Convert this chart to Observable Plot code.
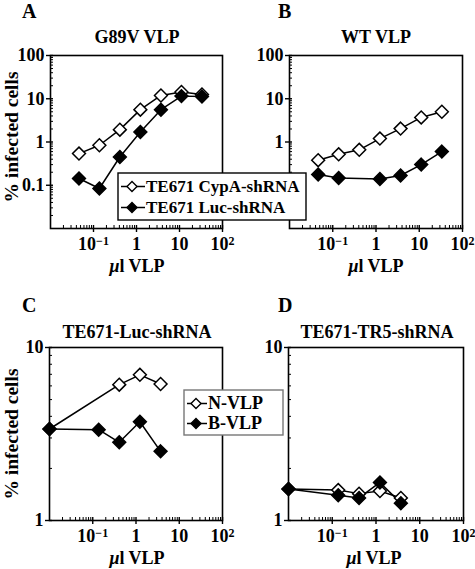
<!DOCTYPE html>
<html><head><meta charset="utf-8">
<script src="https://cdn.jsdelivr.net/npm/d3@7"></script>
<script src="https://cdn.jsdelivr.net/npm/@observablehq/plot@0.6"></script>
<style>
html,body{margin:0;padding:0;background:#fff;}
#fig{position:relative;width:475px;height:569px;overflow:hidden;background:#fff;}
.panel{position:absolute;}
#overlay{position:absolute;left:0;top:0;pointer-events:none;}
</style></head><body><div id="fig"></div>
<script>
// ---- data ----
const doseA = [0.046, 0.137, 0.41, 1.23, 3.7, 11.1, 33.3];
const g89vCypA = [0.54, 0.84, 1.93, 5.6, 11.9, 14.3, 12.6];
const g89vLuc = [0.143, 0.084, 0.45, 1.70, 5.6, 11.5, 11.2];
const doseWtCypA = [0.046, 0.137, 0.41, 1.23, 3.7, 11.1, 33.3];
const wtCypA = [0.38, 0.52, 0.66, 1.2, 2.04, 3.7, 5.0];
const doseWtLuc = [0.046, 0.137, 1.23, 3.7, 11.1, 33.3];
const wtLuc = [0.177, 0.148, 0.14, 0.168, 0.30, 0.60];
const doseLucN = [0.01, 0.41, 1.23, 3.7];
const lucN = [3.38, 6.1, 6.95, 6.15];
const doseLucB = [0.01, 0.137, 0.41, 1.23, 3.7];
const lucB = [3.38, 3.35, 2.83, 3.72, 2.51];
const doseTR5 = [0.01, 0.137, 0.41, 1.23, 3.7];
const tr5N = [1.52, 1.50, 1.43, 1.48, 1.35];
const tr5B = [1.52, 1.40, 1.35, 1.66, 1.26];

const xTicks = [0.1, 1, 10, 100];
const xTickLabels = ["10^-1", "1", "10", "10^2"];
const yTicksTop = [0.1, 1, 10, 100];
const yTickLabelsA = ["0.1", "1", "10", "100"];
const yTickLabelsB = ["", "1", "10", "100"]; // 0.1 hidden behind the legend box in the original
const yTicksBottom = [1, 10];
const yTickLabelsBottom = ["1", "10"];

const panelTitles = ["G89V VLP", "WT VLP", "TE671-Luc-shRNA", "TE671-TR5-shRNA"];
const panelLetters = ["A", "B", "C", "D"];
const legendTop = ["TE671 CypA-shRNA", "TE671 Luc-shRNA"];
const legendBottom = ["N-VLP", "B-VLP"];

// ---- helpers ----
const FONT = '"Liberation Serif","Times New Roman",Times,serif';
function minorTicks(lo, hi) {
  const out = [];
  for (let e = Math.round(Math.log10(lo)); e < Math.round(Math.log10(hi)); e++)
    for (let m = 2; m <= 9; m++) out.push(m * Math.pow(10, e));
  return out;
}
const rows = (xs, ys) => xs.map((x, i) => ({x, y: ys[i]}));

function panel(o) {
  const fw = o.width - o.ml - o.mr, fh = o.height - o.mt - o.mb;
  const xMin = minorTicks(0.01, 100), yMin = minorTicks(o.yDomain[0], o.yDomain[1]);
  const marks = [
    Plot.tickX(xMin, {x: d => d, insetTop: fh - 3, stroke: "black", strokeWidth: 1}),
    Plot.tickX(xTicks, {x: d => d, insetTop: fh - 3, stroke: "black", strokeWidth: 1.4}),
    Plot.tickY(yMin, {y: d => d, insetRight: fw - 3, stroke: "black", strokeWidth: 1}),
    Plot.tickY(o.yTicks, {y: d => d, insetRight: fw - 3, stroke: "black", strokeWidth: 1.4}),
    Plot.axisX({ticks: xTicks, tickFormat: d => xTickLabels[xTicks.indexOf(d)], tickSize: 4, tickPadding: 5, strokeWidth: 1.4, label: null}),
    Plot.axisY({ticks: o.yTicks, tickFormat: d => o.yLabels[o.yTicks.indexOf(d)], tickSize: 4, tickPadding: 2, strokeWidth: 1.4, label: null}),
    Plot.frame({stroke: "black", strokeWidth: 1.6})
  ];
  for (const s of o.series) marks.push(Plot.line(s.data, {x: "x", y: "y", stroke: "black", strokeWidth: 1.5}));
  for (const s of o.series) marks.push(Plot.dot(s.data, {x: "x", y: "y", symbol: "diamond2", r: 5.8,
    fill: s.filled ? "black" : "white", stroke: "black", strokeWidth: 1.5}));
  const svg = Plot.plot({
    width: o.width, height: o.height,
    marginLeft: o.ml, marginRight: o.mr, marginTop: o.mt, marginBottom: o.mb,
    x: {type: "log", domain: [0.01, 100]},
    y: {type: "log", domain: o.yDomain},
    style: {fontFamily: FONT, fontSize: "18px", fontWeight: "bold", color: "black", background: "transparent", overflow: "visible"},
    marks
  });
  // superscript exponents on x tick labels
  d3.select(svg).selectAll('g[aria-label="x-axis tick label"] text').each(function() {
    const t = this.textContent;
    const m = t.match(/^(10)\^(.+)$/);
    if (m) {
      const sel = d3.select(this);
      sel.text(null);
      sel.append("tspan").text(m[1]);
      sel.append("tspan").attr("dy", "-0.45em").attr("font-size", "12px").text(m[2].replace("-", "\u2212"));
    }
  });
  const div = document.createElement("div");
  div.className = "panel";
  div.style.left = o.left + "px";
  div.style.top = o.top + "px";
  div.appendChild(svg);
  document.getElementById("fig").appendChild(div);
}

panel({left: 0, top: 0, width: 237, height: 290, ml: 50, mr: 15, mt: 55, mb: 62,
  yDomain: [0.01, 100], yTicks: yTicksTop, yLabels: yTickLabelsA,
  series: [{data: rows(doseA, g89vCypA), filled: false}, {data: rows(doseA, g89vLuc), filled: true}]});
panel({left: 237, top: 0, width: 238, height: 290, ml: 52, mr: 13, mt: 55, mb: 62,
  yDomain: [0.01, 100], yTicks: yTicksTop, yLabels: yTickLabelsB,
  series: [{data: rows(doseWtCypA, wtCypA), filled: false}, {data: rows(doseWtLuc, wtLuc), filled: true}]});
panel({left: 0, top: 290, width: 237, height: 279, ml: 49, mr: 15, mt: 57, mb: 49,
  yDomain: [1, 10], yTicks: yTicksBottom, yLabels: yTickLabelsBottom,
  series: [{data: rows(doseLucN, lucN), filled: false}, {data: rows(doseLucB, lucB), filled: true}]});
panel({left: 237, top: 290, width: 238, height: 279, ml: 51, mr: 12, mt: 57, mb: 49,
  yDomain: [1, 10], yTicks: yTicksBottom, yLabels: yTickLabelsBottom,
  series: [{data: rows(doseTR5, tr5N), filled: false}, {data: rows(doseTR5, tr5B), filled: true}]});

// ---- overlay texts & legends ----
const ov = d3.select("#fig").append("svg").attr("id", "overlay")
  .attr("width", 475).attr("height", 569)
  .style("font-family", FONT).style("font-weight", "bold").attr("fill", "black");

const letterPos = [[22, 18], [278, 18], [22, 312], [278, 312]];
panelLetters.forEach((L, i) => ov.append("text").attr("x", letterPos[i][0]).attr("y", letterPos[i][1]).attr("font-size", 20).text(L));
const titlePos = [[137, 43], [376, 43], [137, 338], [377, 338]];
panelTitles.forEach((T, i) => ov.append("text").attr("x", titlePos[i][0]).attr("y", titlePos[i][1]).attr("font-size", 18).attr("text-anchor", "middle").text(T));
const xlabPos = [[137, 272], [376, 272], [137, 564], [374, 564]];
xlabPos.forEach(([x, y]) => {
  const t = ov.append("text").attr("x", x).attr("y", y).attr("font-size", 18).attr("text-anchor", "middle");
  t.append("tspan").attr("font-style", "italic").text("\u03bc");
  t.append("tspan").text("l VLP");
});
[[11, 137], [11, 434]].forEach(([x, y]) => {
  ov.append("text").attr("transform", `translate(${x},${y}) rotate(-90)`).attr("dy", "0.35em")
    .attr("font-size", 19.5).attr("text-anchor", "middle").text("% infected cells");
});

function legend(box, labels, rowsY, lineX, diamondX, textX, fs, boxStroke) {
  ov.append("rect").attr("x", box[0]).attr("y", box[1]).attr("width", box[2]).attr("height", box[3])
    .attr("fill", "white").attr("stroke", boxStroke).attr("stroke-width", 1.4);
  labels.forEach((lab, i) => {
    const cy = rowsY[i] - 5.5;
    ov.append("line").attr("x1", lineX[0]).attr("x2", lineX[1]).attr("y1", cy).attr("y2", cy).attr("stroke", "black").attr("stroke-width", 1.5);
    ov.append("path").attr("d", d3.symbol(d3.symbolDiamond2, 64)()).attr("transform", `translate(${diamondX},${cy})`)
      .attr("fill", i === 0 ? "white" : "black").attr("stroke", "black").attr("stroke-width", 1.4);
    ov.append("text").attr("x", textX).attr("y", rowsY[i]).attr("font-size", fs).text(lab);
  });
}
legend([118, 173, 188, 47], legendTop, [192, 213], [121, 145], 132, 146, 17, "black");
legend([184, 390, 99, 45], legendBottom, [409, 429], [187, 207], 196, 208, 18, "#777");
</script></body></html>
